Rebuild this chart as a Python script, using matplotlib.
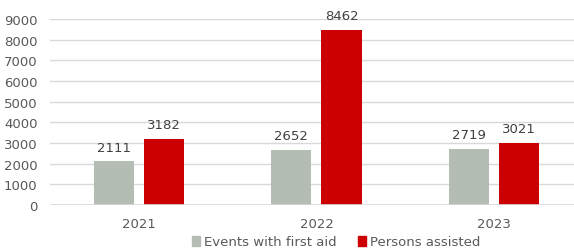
import matplotlib.pyplot as plt
import matplotlib.patches as mpatches
import numpy as np

years = ["2021", "2022", "2023"]
events = [2111, 2652, 2719]
persons = [3182, 8462, 3021]
series_names = ["Events with first aid", "Persons assisted"]

GRAY = "#B3BDB3"
RED = "#CC0000"
TEXT = "#595959"

plt.rcParams["font.family"] = "DejaVu Sans"

fig = plt.figure(figsize=(5.74, 2.51), dpi=100)
ax = fig.add_axes([50 / 574, 1 - 206 / 251, 524 / 574, 186 / 251])

x = np.arange(len(years))
w = 0.226
off = 0.141
b1 = ax.bar(x - off, events, w, color=GRAY, zorder=3)
b2 = ax.bar(x + off, persons, w, color=RED, zorder=3)

for bars, vals in [(b1, events), (b2, persons)]:
    for rect, v in zip(bars, vals):
        ax.text(rect.get_x() + rect.get_width() / 2, v + 380, str(v),
                ha="center", va="bottom", fontsize=9.5, color="#404040")

ax.set_xlim(-0.5, 2.45)
ax.set_ylim(0, 9000)
ax.set_yticks(range(0, 9001, 1000))
ax.set_xticks(x)
ax.set_xticklabels(years)
ax.tick_params(axis="both", length=0, labelsize=9.5, colors=TEXT)
ax.tick_params(axis="x", pad=9)
ax.tick_params(axis="y", pad=9)
ax.yaxis.grid(True, color="#D9D9D9", lw=1, zorder=0)
for sp in ax.spines.values():
    sp.set_visible(False)
ax.axhline(0, color="#D9D9D9", lw=1.2, zorder=4)

handles = [mpatches.Patch(color=GRAY, label=series_names[0]),
           mpatches.Patch(color=RED, label=series_names[1])]
fig.legend(handles=handles, loc="center", bbox_to_anchor=(336 / 574, 1 - 243 / 251),
           ncols=2, frameon=False, fontsize=9.5, handlelength=0.6, handleheight=0.8,
           handletextpad=0.3, columnspacing=1.6, labelcolor=TEXT)

fig.savefig("out.png", dpi=100)
